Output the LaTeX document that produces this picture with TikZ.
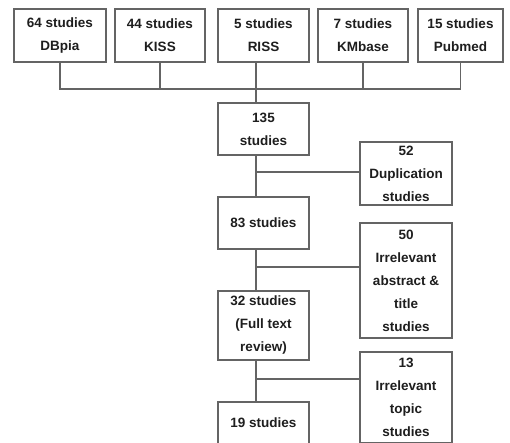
\documentclass[tikz,border=0pt]{standalone}
\usepackage{fontspec}
\setmainfont{Liberation Sans}
\usepackage{tikz}
\definecolor{linegray}{RGB}{100,100,100}
\definecolor{textdark}{RGB}{30,30,30}
\newcommand{\studybox}[6]{\node[box,minimum width=#4,minimum height=#5] (#1) at (#2,#3) {#6};}

\begin{document}
\begin{tikzpicture}[x=1pt,y=-1pt,
    box/.style={draw=linegray,line width=1.2pt,fill=white,inner sep=0pt,align=center,
        text=textdark,font=\fontsize{13.5}{23}\selectfont\bfseries},
    link/.style={draw=linegray,line width=1.4pt}]
        \useasboundingbox (0,0) rectangle (510,442);

        \studybox{db}{60}{35.5}{92pt}{53pt}{64 studies\\DBpia}
        \studybox{ks}{160}{35.5}{90pt}{53pt}{44 studies\\KISS}
        \studybox{rs}{263.5}{35.5}{91pt}{53pt}{5 studies\\RISS}
        \studybox{km}{363}{35.5}{90pt}{53pt}{7 studies\\KMbase}
        \studybox{pm}{460.5}{35.5}{85pt}{53pt}{15 studies\\Pubmed}

        \studybox{c135}{263.5}{129}{91pt}{52pt}{135\\studies}
        \studybox{c83}{263.5}{223}{91pt}{52pt}{83 studies}
        \studybox{c32}{263.5}{325.5}{91pt}{69pt}{32 studies\\(Full text\\review)}
        \studybox{c19}{263.5}{423}{91pt}{42pt}{19 studies}

        \studybox{dup}{406}{173.5}{92pt}{63pt}{52\\Duplication\\studies}
        \studybox{irr}{406}{280.5}{92pt}{115pt}{50\\Irrelevant\\abstract \&\\title\\studies}
        \studybox{top}{406}{397.5}{92pt}{91pt}{13\\Irrelevant\\topic\\studies}

        \coordinate (join) at (256,89);
        \coordinate (br1) at (256,172);
        \coordinate (br2) at (256,267);
        \coordinate (br3) at (256,379);

        \draw[link] (db.south) |- (join);
        \draw[link] (ks.south) |- (join);
        \draw[link] (join |- rs.south) -- (join);
        \draw[link] (km.south) |- (join);
        \draw[link] (pm.south) |- (join);
        \draw[link] (join) -- (join |- c135.north);

        \draw[link] (join |- c135.south) -- (join |- c83.north);
        \draw[link] (join |- c83.south) -- (join |- c32.north);
        \draw[link] (join |- c32.south) -- (join |- c19.north);

        \draw[link] (br1) -- (br1 -| dup.west);
        \draw[link] (br2) -- (br2 -| irr.west);
        \draw[link] (br3) -- (br3 -| top.west);
    \end{tikzpicture}
\end{document}
